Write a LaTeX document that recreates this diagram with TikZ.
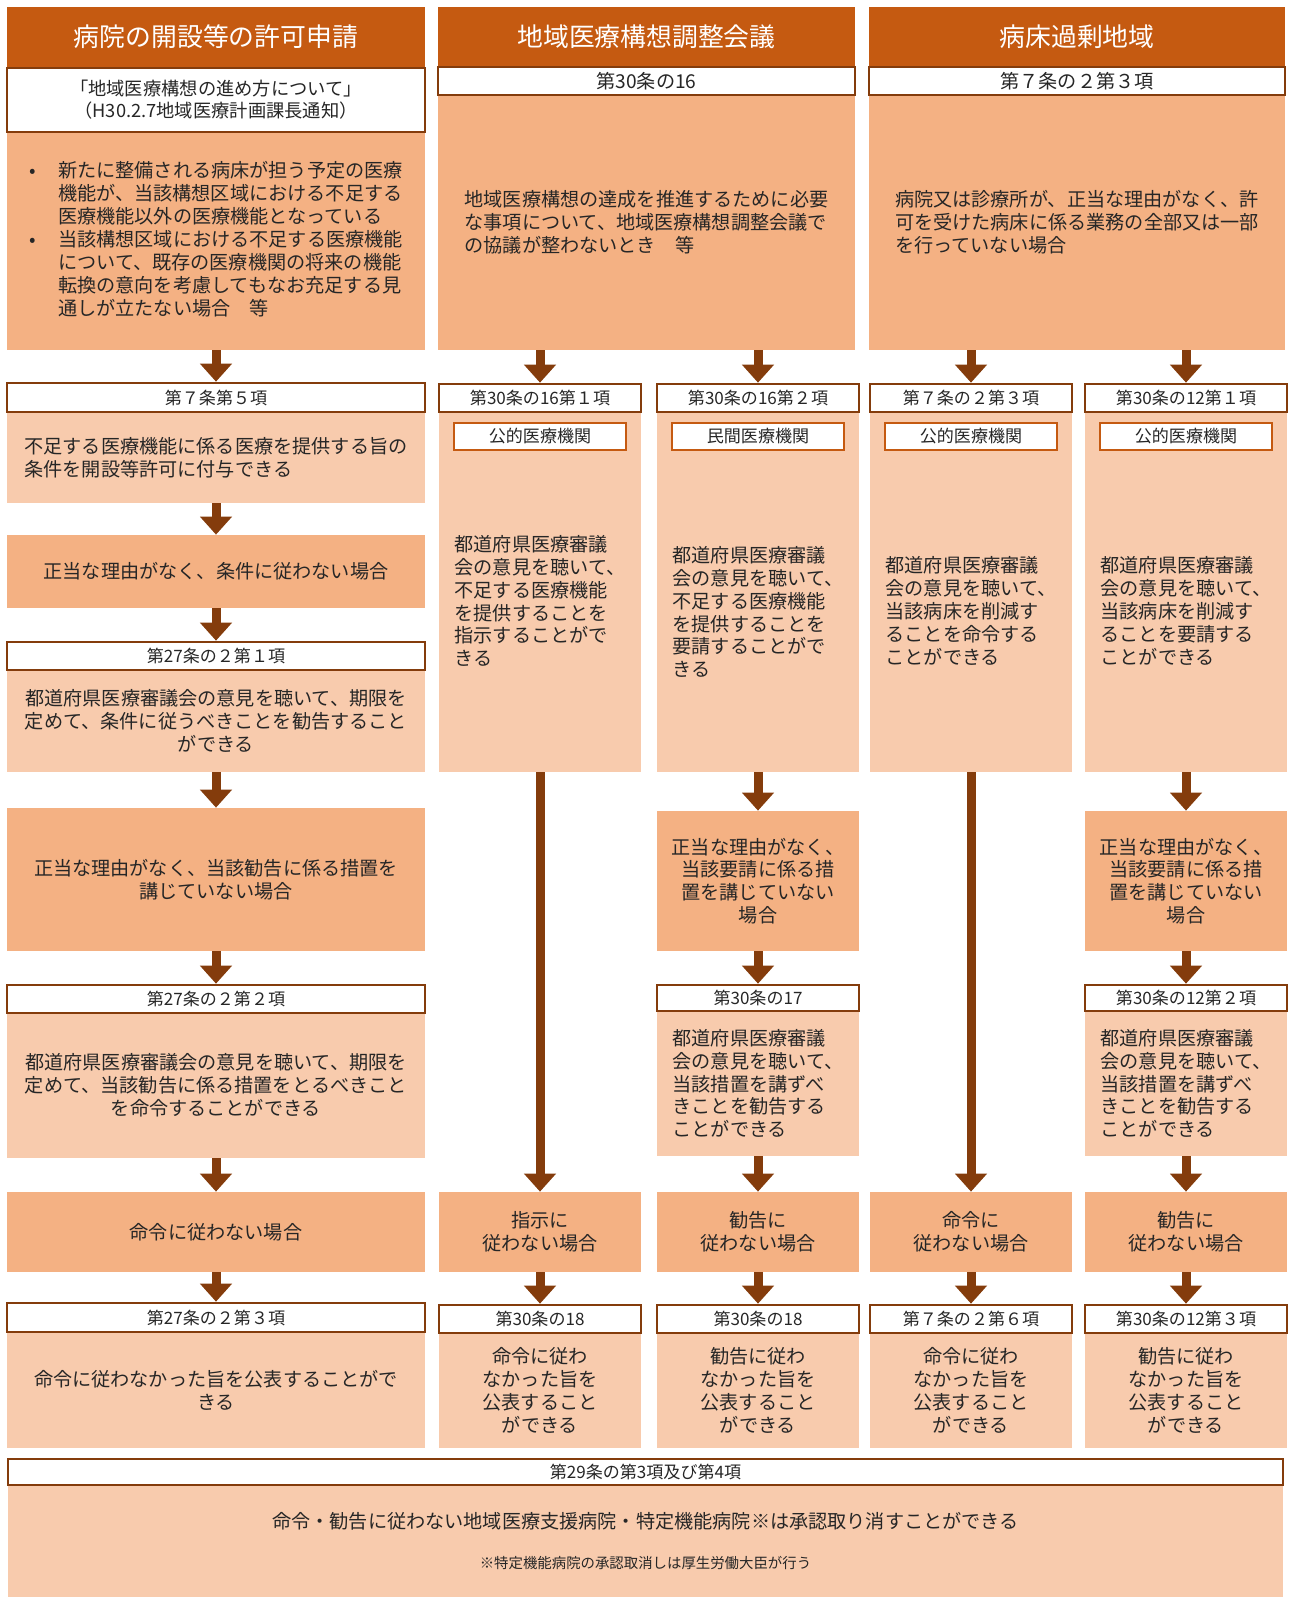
\documentclass[tikz,border=0pt]{standalone}
\usepackage{fontspec}
\setmainfont{Noto Sans CJK JP}
\usetikzlibrary{arrows.meta}

\definecolor{hdrorange}{HTML}{C55A11}
\definecolor{darkbrown}{HTML}{843C0C}
\definecolor{midorange}{HTML}{F4B183}
\definecolor{paleorange}{HTML}{F8CBAD}
\definecolor{inkgray}{HTML}{262626}

\newcommand{\hdrfont}{\fontsize{14.7}{17}\selectfont}
\newcommand{\txtfont}{\fontsize{10.9}{13}\selectfont}
\newcommand{\reffont}{\fontsize{10.4}{12.5}\selectfont}
\newcommand{\artfont}{\fontsize{9.7}{11}\selectfont}
\newcommand{\smallnote}{\fontsize{8.2}{10}\selectfont}

\begin{document}
\begin{tikzpicture}[x=0.02cm, y=-0.02cm,
    wh/.style 2 args={minimum width=#1*0.02cm, minimum height=#2*0.02cm, inner sep=0pt},
    hdr/.style={fill=hdrorange, text=white, font=\hdrfont},
    artbox/.style={draw=darkbrown, line width=1.5pt, fill=white, text=inkgray, font=\artfont},
    orgbox/.style={draw=hdrorange, line width=1.4pt, fill=white, text=inkgray, font=\artfont, wh={172}{27}},
    casebox/.style={fill=midorange, text=inkgray, font=\txtfont, align=center},
    actbox/.style={fill=paleorange, text=inkgray, font=\txtfont, align=center},
    arr/.style={draw=darkbrown, line width=0.18cm, -{Triangle[width=0.62cm, length=0.36cm]}}]
    \useasboundingbox (0,0) rectangle (1291,1597);

    % Column 1: opening permission
    \node[hdr, wh={418}{60}] (hdr1) at (216,37) {病院の開設等の許可申請};
    \node[artbox, font=\reffont, wh={418}{64}, align=center] (ref1) at (216,100) {「地域医療構想の進め方について」\\（H30.2.7地域医療計画課長通知）};
    \node[casebox, wh={418}{217}] (cond1) at (216,241.5) {\begin{tabular}{@{}p{0.58cm}@{}l@{}}
        • & 新たに整備される病床が担う予定の医療\\
          & 機能が、当該構想区域における不足する\\
          & 医療機能以外の医療機能となっている\\
        • & 当該構想区域における不足する医療機能\\
          & について、既存の医療機関の将来の機能\\
          & 転換の意向を考慮してもなお充足する見\\
          & 通しが立たない場合　等
        \end{tabular}};
    \node[actbox, wh={418}{91}, align=left] (act1) at (216,457.5) {不足する医療機能に係る医療を提供する旨の\\条件を開設等許可に付与できる};
    \node[artbox, wh={418}{29}] (art1) at (216,397.5) {第７条第５項};
    \node[casebox, wh={418}{73}] (case1) at (216,571.5) {正当な理由がなく、条件に従わない場合};
    \node[actbox, wh={418}{102}] (act2) at (216,721) {都道府県医療審議会の意見を聴いて、期限を\\定めて、条件に従うべきことを勧告すること\\ができる};
    \node[artbox, wh={418}{28}] (art2) at (216,656) {第27条の２第１項};
    \node[casebox, wh={418}{143}] (case2) at (216,879.5) {正当な理由がなく、当該勧告に係る措置を\\講じていない場合};
    \node[actbox, wh={418}{145}] (act3) at (216,1085.5) {都道府県医療審議会の意見を聴いて、期限を\\定めて、当該勧告に係る措置をとるべきこと\\を命令することができる};
    \node[artbox, wh={418}{28}] (art3) at (216,999) {第27条の２第２項};
    \node[casebox, wh={418}{80}] (case3) at (216,1232) {命令に従わない場合};
    \node[actbox, wh={418}{116}] (act4) at (216,1390) {命令に従わなかった旨を公表することがで\\きる};
    \node[artbox, wh={418}{29}] (art4) at (216,1317.5) {第27条の２第３項};

    % Column 2 and 3 headers
    \node[hdr, wh={417}{60}] (hdr2) at (646.5,37) {地域医療構想調整会議};
    \node[casebox, wh={417}{255}, align=left] (cond2) at (646.5,222.5) {地域医療構想の達成を推進するために必要\\な事項について、地域医療構想調整会議で\\の協議が整わないとき　等};
    \node[artbox, font=\txtfont, wh={417}{28}] (ref2) at (646.5,81) {第30条の16};
    \node[hdr, wh={416}{60}] (hdr3) at (1077,37) {病床過剰地域};
    \node[casebox, wh={416}{255}, align=left] (cond3) at (1077,222.5) {病院又は診療所が、正当な理由がなく、許\\可を受けた病床に係る業務の全部又は一部\\を行っていない場合};
    \node[artbox, font=\txtfont, wh={416}{28}] (ref3) at (1077,81) {第７条の２第３項};

    % Sub-columns: first measure
    \foreach \nm/\cx/\ty/\art/\org/\txt in {
        a/540/601/{第30条の16第１項}/公的医療機関/{都道府県医療審議\\会の意見を聴いて、\\不足する医療機能\\を提供することを\\指示することがで\\きる},
        b/758/612/{第30条の16第２項}/民間医療機関/{都道府県医療審議\\会の意見を聴いて、\\不足する医療機能\\を提供することを\\要請することがで\\きる},
        c/971/611/{第７条の２第３項}/公的医療機関/{都道府県医療審議\\会の意見を聴いて、\\当該病床を削減す\\ることを命令する\\ことができる},
        d/1186/611/{第30条の12第１項}/公的医療機関/{都道府県医療審議\\会の意見を聴いて、\\当該病床を削減す\\ることを要請する\\ことができる}} {
        \node[actbox, wh={202}{360}] (act\nm) at (\cx,592) {};
        \node[artbox, wh={202}{28}] (art\nm) at (\cx,398) {\art};
        \node[orgbox] (org\nm) at (\cx,436.5) {\org};
        \node[text=inkgray, font=\txtfont, align=left] (txt\nm) at (\cx,\ty) {\txt};
    }

    % Sub-columns: request not followed, then recommendation
    \foreach \nm/\cx/\art in {b/758/{第30条の17}, d/1186/{第30条の12第２項}} {
        \node[casebox, wh={202}{140}] (case\nm) at (\cx,881) {正当な理由がなく、\\当該要請に係る措\\置を講じていない\\場合};
        \node[actbox, wh={202}{145}, align=left] (rec\nm) at (\cx,1083.5) {都道府県医療審議\\会の意見を聴いて、\\当該措置を講ずべ\\きことを勧告する\\ことができる};
        \node[artbox, wh={202}{26}] (artrec\nm) at (\cx,998) {\art};
    }

    % Sub-columns: not followed, publication
    \foreach \nm/\cx/\fail/\art/\pub in {a/540/指示/{第30条の18}/命令, b/758/勧告/{第30条の18}/勧告,
        c/971/命令/{第７条の２第６項}/命令, d/1186/勧告/{第30条の12第３項}/勧告} {
        \node[casebox, wh={202}{80}] (fail\nm) at (\cx,1232) {{\fail}に\\従わない場合};
        \node[actbox, wh={202}{115}] (pub\nm) at (\cx,1390.5) {{\pub}に従わ\\なかった旨を\\公表すること\\ができる};
        \node[artbox, wh={202}{28}] (artpub\nm) at (\cx,1319) {\art};
    }

    % Bottom band
    \node[actbox, wh={1275}{112}] (cancel) at (645.5,1541) {命令・勧告に従わない地域医療支援病院・特定機能病院※は承認取り消すことができる\\[10pt]{\smallnote ※特定機能病院の承認取消しは厚生労働大臣が行う}};
    \node[artbox, wh={1275}{26}] (art29) at (645.5,1472) {第29条の第3項及び第4項};

    % Arrows
    \draw[arr] (cond1) -- (art1);
    \draw[arr] (act1) -- (case1);
    \draw[arr] (case1) -- (art2);
    \draw[arr] (act2) -- (case2);
    \draw[arr] (case2) -- (art3);
    \draw[arr] (act3) -- (case3);
    \draw[arr] (case3) -- (art4);
    \draw[arr] (arta |- cond2.south) -- (arta);
    \draw[arr] (artb |- cond2.south) -- (artb);
    \draw[arr] (artc |- cond3.south) -- (artc);
    \draw[arr] (artd |- cond3.south) -- (artd);
    \draw[arr] (acta) -- (faila);
    \draw[arr] (actc) -- (failc);
    \foreach \nm in {b,d} {
        \draw[arr] (act\nm) -- (case\nm);
        \draw[arr] (case\nm) -- (artrec\nm);
        \draw[arr] (rec\nm) -- (fail\nm);
    }
    \foreach \nm in {a,b,c,d} { \draw[arr] (fail\nm) -- (artpub\nm); }
\end{tikzpicture}
\end{document}
